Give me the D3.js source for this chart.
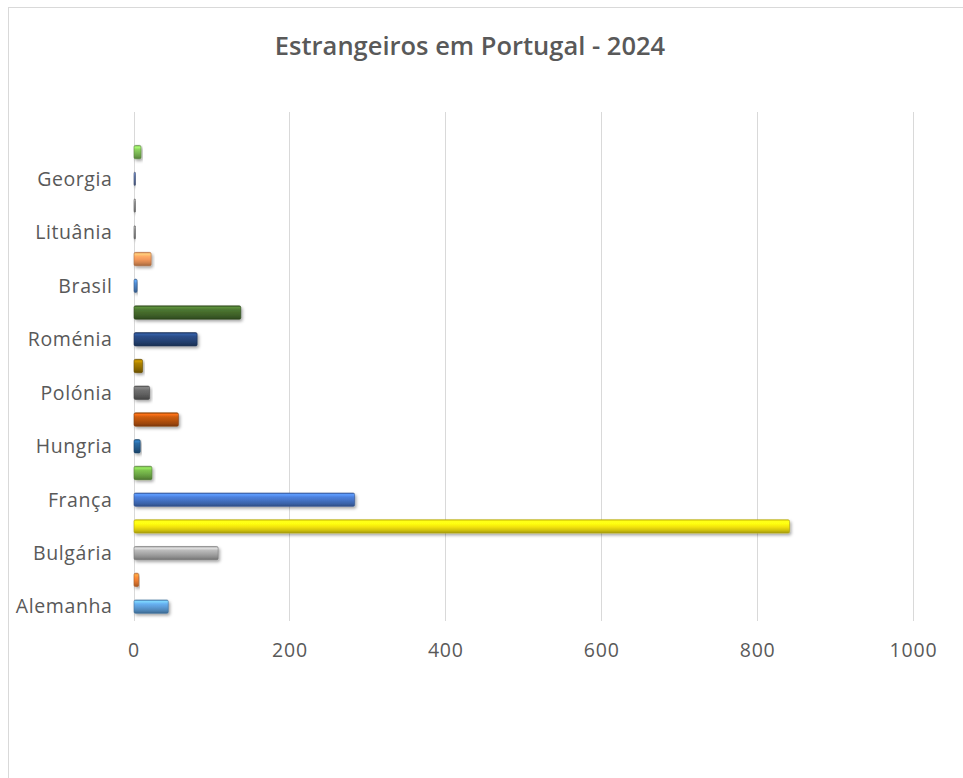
<!DOCTYPE html>
<html>
<head>
<meta charset="utf-8">
<script src="https://cdn.jsdelivr.net/npm/d3@7"></script>
<style>
  html, body { margin: 0; padding: 0; background: #fff; }
  svg { display: block; }
  text { font-family: "Open Sans", "Noto Sans", sans-serif; fill: #595959; }
</style>
</head>
<body>
<svg id="chart" width="963" height="778"></svg>
<script>
// Categories bottom-to-top (Excel shows every other label; unreadable names left blank)
const categories = ["Alemanha", "", "Bulgária", "", "França", "", "Hungria", "", "Polónia", "",
                    "Roménia", "", "Brasil", "", "Lituânia", "", "Georgia", "", ""];
const values = [44, 6, 108, 841, 283, 23, 8, 57, 20, 11, 81, 137, 4, 22, 2, 2, 2, 9, null];
const barColors = ["#5B9BD5", "#ED7D31", "#A5A5A5", "#F2E20F", "#4472C4", "#70AD47",
                   "#255E91", "#B8530F", "#636363", "#997300", "#264478", "#43682B",
                   "#4A7FBF", "#F1975A", "#8A8A8A", "#8A8A8A", "#5A6FA0", "#7DBB55", "#327DC2"];
const xTicks = [0, 200, 400, 600, 800, 1000];
const title = "Estrangeiros em Portugal - 2024";

const svg = d3.select("#chart");
const W = 963, H = 778;

// chart frame
svg.append("rect").attr("x", 8.5).attr("y", 7.5).attr("width", W - 8).attr("height", H)
  .attr("fill", "#fff").attr("stroke", "#d9d9d9").attr("stroke-width", 1);

const x = d3.scaleLinear().domain([0, 1000]).range([133.5, 913]);
const idx = d3.range(categories.length);
const y = d3.scaleBand().domain(idx).range([620, 112]).paddingInner(0.5).paddingOuter(0.25);

const defs = svg.append("defs");
const f = defs.append("filter").attr("id", "shadow").attr("x", "-10%").attr("y", "-60%")
  .attr("width", "130%").attr("height", "260%");
f.append("feDropShadow").attr("dx", 1.5).attr("dy", 2).attr("stdDeviation", 1.6)
  .attr("flood-color", "#000").attr("flood-opacity", 0.35);

barColors.forEach((c, i) => {
  const g = defs.append("linearGradient").attr("id", "grad" + i)
    .attr("x1", 0).attr("y1", 0).attr("x2", 0).attr("y2", 1);
  const base = d3.color(c);
  const stops = [
    [0, base.darker(0.3)],
    [0.12, base.brighter(0.9)],
    [0.3, base.brighter(0.35)],
    [0.55, base],
    [0.8, base.darker(0.45)],
    [1, base.darker(1.1)]
  ];
  stops.forEach(([o, col]) => g.append("stop").attr("offset", o).attr("stop-color", col.formatHex()));
});

// gridlines
svg.append("g").selectAll("line").data(xTicks).join("line")
  .attr("x1", d => Math.round(x(d)) + 0.5).attr("x2", d => Math.round(x(d)) + 0.5)
  .attr("y1", 112).attr("y2", 621)
  .attr("stroke", "#d9d9d9").attr("stroke-width", 1);

// bars
const data = idx.map(i => ({ i, v: values[i] })).filter(d => d.v != null);
svg.append("g").selectAll("rect").data(data).join("rect")
  .attr("x", x(0) + 0.5)
  .attr("y", d => y(d.i))
  .attr("width", d => Math.max(1.5, x(d.v) - x(0)))
  .attr("height", y.bandwidth())
  .attr("rx", 1.5)
  .attr("fill", d => `url(#grad${d.i})`)
  .attr("stroke", d => d3.color(barColors[d.i]).darker(0.9).formatHex())
  .attr("stroke-width", 0.6)
  .attr("filter", "url(#shadow)");

// y axis labels
const yAxis = d3.axisLeft(y).tickSize(0).tickPadding(0).tickFormat(i => categories[i]);
const ya = svg.append("g").attr("transform", `translate(${x(0) - 21},0)`).call(yAxis);
ya.select(".domain").remove();
ya.selectAll("text").style("font-size", "19.5px").style("font-family", null)
  .style("letter-spacing", "0.6px")
  .attr("fill", "#595959").attr("dy", "0.35em");

// x axis labels
const xAxis = d3.axisBottom(x).tickValues(xTicks).tickSize(0).tickPadding(0).tickFormat(d3.format("d"));
const xa = svg.append("g").attr("transform", `translate(0,643)`).call(xAxis);
xa.select(".domain").remove();
xa.selectAll("text").style("font-size", "19.5px").style("font-family", null)
  .style("letter-spacing", "0.8px").attr("fill", "#595959");

// title
svg.append("text").attr("x", 470).attr("y", 55).attr("text-anchor", "middle")
  .style("font-size", "25.5px").style("font-weight", 600).attr("fill", "#595959")
  .text(title);
</script>
</body>
</html>
